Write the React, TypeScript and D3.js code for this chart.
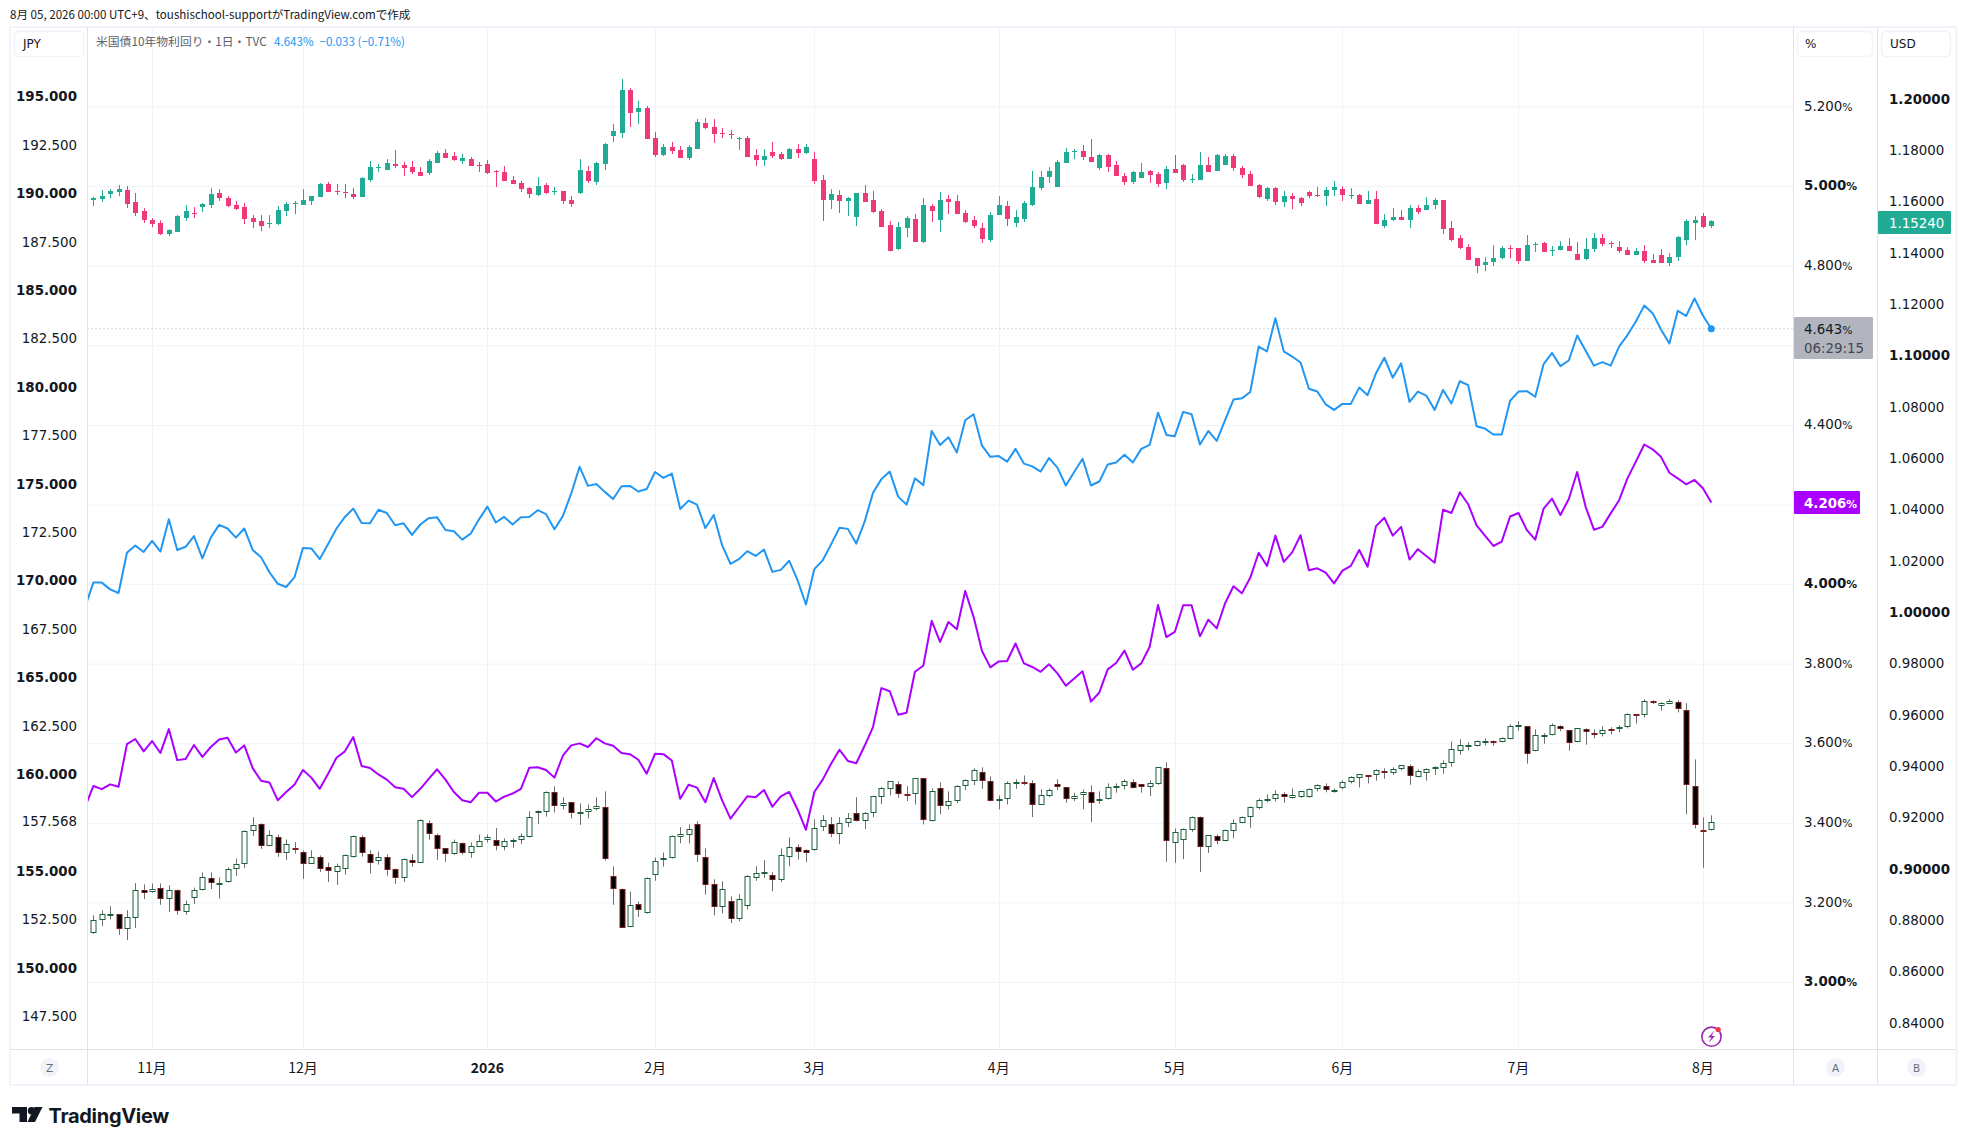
import * as d3 from "d3";

// OHLC rows, one per trading day
const eurusdOhlc: number[][] = [
  [1.1607,1.1620,1.1584,1.1617],[1.1611,1.1646,1.1600,1.1623],[1.1631,1.1650,1.1615,1.1644],[1.1639,1.1666,1.1623,1.1650],
  [1.1646,1.1662,1.1576,1.1592],[1.1600,1.1635,1.1545,1.1557],[1.1565,1.1576,1.1518,1.1529],[1.1529,1.1537,1.1502,1.1514],
  [1.1518,1.1529,1.1471,1.1475],[1.1475,1.1494,1.1467,1.1490],[1.1483,1.1549,1.1483,1.1545],[1.1537,1.1588,1.1526,1.1565],
  [1.1557,1.1580,1.1537,1.1553],[1.1580,1.1596,1.1561,1.1592],[1.1588,1.1654,1.1576,1.1631],[1.1635,1.1650,1.1604,1.1615],
  [1.1615,1.1623,1.1580,1.1584],[1.1588,1.1604,1.1568,1.1572],[1.1580,1.1596,1.1514,1.1533],[1.1537,1.1549,1.1498,1.1522],
  [1.1526,1.1549,1.1486,1.1506],[1.1514,1.1549,1.1498,1.1518],[1.1514,1.1584,1.1510,1.1568],[1.1565,1.1600,1.1545,1.1592],
  [1.1592,1.1604,1.1553,1.1596],[1.1588,1.1650,1.1588,1.1607],[1.1604,1.1623,1.1588,1.1623],[1.1619,1.1674,1.1619,1.1670],
  [1.1670,1.1678,1.1639,1.1639],[1.1643,1.1670,1.1627,1.1639],[1.1639,1.1670,1.1615,1.1635],[1.1631,1.1654,1.1611,1.1619],
  [1.1619,1.1697,1.1619,1.1693],[1.1685,1.1760,1.1678,1.1736],[1.1732,1.1748,1.1717,1.1736],[1.1724,1.1767,1.1724,1.1752],
  [1.1748,1.1802,1.1732,1.1740],[1.1744,1.1756,1.1701,1.1732],[1.1736,1.1760,1.1709,1.1717],[1.1717,1.1736,1.1701,1.1701],
  [1.1713,1.1767,1.1705,1.1760],[1.1752,1.1799,1.1752,1.1791],[1.1791,1.1806,1.1771,1.1771],[1.1779,1.1795,1.1760,1.1763],
  [1.1760,1.1787,1.1748,1.1771],[1.1767,1.1775,1.1740,1.1740],[1.1744,1.1756,1.1717,1.1740],[1.1748,1.1763,1.1709,1.1713],
  [1.1721,1.1724,1.1658,1.1717],[1.1717,1.1740,1.1682,1.1682],[1.1685,1.1701,1.1670,1.1670],[1.1674,1.1682,1.1639,1.1650],
  [1.1654,1.1658,1.1615,1.1631],[1.1627,1.1697,1.1623,1.1662],[1.1666,1.1674,1.1631,1.1635],[1.1639,1.1658,1.1627,1.1643],
  [1.1643,1.1643,1.1592,1.1604],[1.1607,1.1623,1.1580,1.1592],[1.1635,1.1767,1.1631,1.1724],[1.1721,1.1740,1.1674,1.1682],
  [1.1678,1.1756,1.1666,1.1752],[1.1748,1.1830,1.1724,1.1826],[1.1857,1.1904,1.1834,1.1877],[1.1869,1.2079,1.1849,1.2036],
  [1.2036,1.2044,1.1892,1.1947],[1.1951,1.1994,1.1904,1.1966],[1.1966,1.1974,1.1845,1.1845],[1.1849,1.1873,1.1775,1.1783],
  [1.1783,1.1826,1.1779,1.1814],[1.1814,1.1834,1.1787,1.1799],[1.1802,1.1818,1.1771,1.1771],[1.1771,1.1822,1.1763,1.1814],
  [1.1806,1.1923,1.1806,1.1912],[1.1908,1.1927,1.1884,1.1888],[1.1892,1.1923,1.1830,1.1865],[1.1869,1.1888,1.1849,1.1865],
  [1.1865,1.1880,1.1845,1.1861],[1.1845,1.1853,1.1802,1.1849],[1.1849,1.1857,1.1775,1.1775],[1.1783,1.1806,1.1740,1.1763],
  [1.1763,1.1806,1.1740,1.1779],[1.1795,1.1834,1.1771,1.1779],[1.1787,1.1795,1.1763,1.1767],[1.1767,1.1810,1.1767,1.1806],
  [1.1806,1.1826,1.1771,1.1791],[1.1791,1.1826,1.1787,1.1814],[1.1767,1.1795,1.1670,1.1682],[1.1685,1.1705,1.1526,1.1607],
  [1.1607,1.1650,1.1572,1.1631],[1.1627,1.1646,1.1557,1.1604],[1.1604,1.1619,1.1545,1.1615],[1.1541,1.1635,1.1506,1.1635],
  [1.1635,1.1666,1.1600,1.1600],[1.1607,1.1643,1.1557,1.1561],[1.1565,1.1572,1.1502,1.1502],[1.1510,1.1526,1.1408,1.1408],
  [1.1416,1.1522,1.1412,1.1502],[1.1498,1.1545,1.1463,1.1537],[1.1533,1.1553,1.1444,1.1444],[1.1444,1.1615,1.1440,1.1588],
  [1.1584,1.1592,1.1522,1.1565],[1.1529,1.1639,1.1483,1.1607],[1.1611,1.1627,1.1553,1.1600],[1.1604,1.1627,1.1553,1.1553],
  [1.1557,1.1568,1.1518,1.1522],[1.1529,1.1545,1.1498,1.1506],[1.1498,1.1518,1.1440,1.1455],[1.1451,1.1561,1.1444,1.1549],
  [1.1549,1.1623,1.1549,1.1588],[1.1584,1.1604,1.1506,1.1533],[1.1518,1.1568,1.1502,1.1541],[1.1533,1.1604,1.1522,1.1596],
  [1.1588,1.1721,1.1584,1.1658],[1.1654,1.1721,1.1646,1.1697],[1.1697,1.1736,1.1674,1.1721],[1.1658,1.1763,1.1658,1.1756],
  [1.1752,1.1810,1.1752,1.1795],[1.1795,1.1806,1.1767,1.1799],[1.1799,1.1822,1.1763,1.1775],[1.1775,1.1845,1.1756,1.1756],
  [1.1732,1.1787,1.1724,1.1783],[1.1783,1.1787,1.1717,1.1736],[1.1744,1.1760,1.1701,1.1701],[1.1701,1.1713,1.1666,1.1678],
  [1.1678,1.1721,1.1670,1.1717],[1.1693,1.1752,1.1693,1.1717],[1.1721,1.1724,1.1674,1.1705],[1.1709,1.1717,1.1658,1.1670],
  [1.1674,1.1740,1.1650,1.1728],[1.1728,1.1783,1.1713,1.1713],[1.1744,1.1748,1.1678,1.1685],[1.1685,1.1709,1.1674,1.1689],
  [1.1685,1.1795,1.1685,1.1744],[1.1744,1.1775,1.1717,1.1717],[1.1721,1.1787,1.1721,1.1783],[1.1744,1.1787,1.1744,1.1779],
  [1.1779,1.1787,1.1721,1.1732],[1.1732,1.1740,1.1693,1.1705],[1.1709,1.1721,1.1662,1.1662],[1.1666,1.1670,1.1615,1.1619],
  [1.1611,1.1658,1.1604,1.1654],[1.1654,1.1658,1.1588,1.1600],[1.1600,1.1643,1.1580,1.1623],[1.1623,1.1635,1.1572,1.1611],
  [1.1615,1.1619,1.1584,1.1596],[1.1639,1.1643,1.1615,1.1623],[1.1627,1.1658,1.1619,1.1623],[1.1623,1.1658,1.1584,1.1646],
  [1.1646,1.1682,1.1623,1.1658],[1.1650,1.1662,1.1604,1.1627],[1.1623,1.1654,1.1611,1.1627],[1.1627,1.1631,1.1592,1.1592],
  [1.1592,1.1643,1.1592,1.1607],[1.1611,1.1643,1.1514,1.1514],[1.1506,1.1553,1.1498,1.1529],[1.1529,1.1576,1.1526,1.1541],
  [1.1541,1.1568,1.1529,1.1529],[1.1529,1.1588,1.1498,1.1576],[1.1576,1.1588,1.1553,1.1561],[1.1568,1.1619,1.1568,1.1588],
  [1.1588,1.1615,1.1572,1.1607],[1.1607,1.1607,1.1475,1.1494],[1.1498,1.1526,1.1447,1.1451],[1.1459,1.1471,1.1416,1.1420],
  [1.1424,1.1436,1.1373,1.1373],[1.1381,1.1381,1.1323,1.1350],[1.1354,1.1385,1.1330,1.1366],[1.1366,1.1432,1.1350,1.1381],
  [1.1381,1.1428,1.1377,1.1420],[1.1420,1.1432,1.1381,1.1416],[1.1420,1.1420,1.1358,1.1370],[1.1370,1.1471,1.1370,1.1432],
  [1.1432,1.1444,1.1405,1.1436],[1.1440,1.1444,1.1405,1.1405],[1.1408,1.1428,1.1389,1.1412],[1.1412,1.1447,1.1412,1.1428],
  [1.1428,1.1459,1.1408,1.1408],[1.1397,1.1444,1.1373,1.1373],[1.1377,1.1459,1.1373,1.1416],[1.1416,1.1479,1.1405,1.1459],
  [1.1459,1.1475,1.1428,1.1436],[1.1440,1.1447,1.1420,1.1436],[1.1424,1.1447,1.1401,1.1408],[1.1412,1.1424,1.1393,1.1393],
  [1.1393,1.1420,1.1393,1.1408],[1.1408,1.1432,1.1362,1.1370],[1.1373,1.1397,1.1362,1.1362],[1.1393,1.1416,1.1362,1.1362],
  [1.1362,1.1401,1.1350,1.1385],[1.1385,1.1467,1.1370,1.1463],[1.1451,1.1533,1.1432,1.1526],[1.1518,1.1545,1.1451,1.1529],
  [1.1545,1.1557,1.1498,1.1502],[1.1506,1.1529,1.1498,1.1524],
];

const usdjpyOhlc: number[][] = [
  [151.86,152.77,151.81,152.55],[152.55,153.03,152.20,152.81],[152.77,153.24,152.55,152.81],[152.81,152.81,151.75,152.08],
  [152.08,153.03,151.49,152.70],[152.65,154.43,152.12,154.10],[154.10,154.37,153.60,153.94],[153.99,154.41,153.93,154.15],
  [154.20,154.41,153.31,153.63],[153.63,154.32,152.94,154.05],[154.05,154.10,152.79,153.01],[152.96,153.53,152.79,153.37],
  [153.68,154.20,153.34,154.10],[154.10,154.98,154.05,154.77],[154.72,154.98,154.12,154.46],[154.44,154.72,153.63,154.46],
  [154.51,155.24,154.46,155.18],[155.18,155.70,154.79,155.44],[155.44,157.15,155.22,157.10],[157.10,157.84,156.87,157.41],
  [157.46,157.51,156.20,156.37],[156.37,157.15,156.37,156.89],[156.79,156.94,155.79,156.01],[155.96,156.68,155.63,156.43],
  [156.22,156.55,155.96,156.12],[156.06,156.12,154.65,155.44],[155.44,156.12,155.42,155.80],[155.80,155.86,155.01,155.18],
  [155.24,155.49,154.49,155.08],[155.03,155.44,154.34,155.29],[155.18,155.91,154.87,155.86],[155.80,156.89,155.75,156.84],
  [156.79,156.89,155.80,155.96],[155.91,156.12,154.93,155.49],[155.55,156.06,155.39,155.80],[155.80,155.91,154.81,155.13],
  [155.18,155.18,154.39,154.67],[154.67,155.70,154.49,155.65],[155.60,155.91,155.27,155.49],[155.49,157.72,155.48,157.67],
  [157.51,157.67,156.67,156.99],[156.94,156.99,155.63,156.17],[156.22,156.22,155.53,155.91],[155.91,156.68,155.89,156.53],
  [156.48,156.53,155.91,156.01],[156.01,156.53,155.74,156.37],[156.32,156.94,156.32,156.63],[156.68,156.94,156.53,156.79],
  [156.68,157.27,156.12,156.37],[156.32,156.74,156.12,156.63],[156.58,156.74,156.25,156.68],[156.68,156.99,156.46,156.84],
  [156.79,158.13,156.79,157.87],[158.03,158.18,157.49,158.13],[158.08,159.17,157.87,159.12],[159.12,159.43,158.08,158.39],
  [158.39,158.86,158.24,158.55],[158.60,158.60,157.77,158.03],[158.06,158.55,157.44,158.08],[158.08,158.49,157.77,158.24],
  [158.24,158.86,158.18,158.39],[158.34,159.17,155.60,155.70],[154.82,155.29,153.31,154.15],[154.15,154.15,152.13,152.13],
  [152.18,153.99,152.18,153.32],[153.37,153.48,152.68,153.06],[152.91,154.72,152.86,154.72],[154.87,155.75,154.55,155.55],
  [155.60,156.01,155.29,155.75],[155.75,156.89,155.70,156.84],[156.79,157.32,156.49,156.99],[156.94,157.46,156.49,157.20],
  [157.46,157.63,155.53,155.86],[155.80,156.22,153.84,154.31],[154.37,154.63,152.77,153.18],[153.18,154.53,152.87,154.12],
  [153.49,153.75,152.36,152.56],[152.56,153.86,152.46,153.60],[153.24,154.84,153.08,154.79],[154.70,155.30,154.55,154.93],
  [154.91,155.62,154.70,155.03],[154.87,154.99,154.01,154.60],[154.60,156.22,154.48,155.86],[155.80,156.79,155.30,156.32],
  [156.27,156.43,155.65,156.06],[156.12,156.17,155.51,156.01],[156.12,157.72,156.10,157.30],[157.34,157.94,157.12,157.67],
  [157.46,157.84,156.80,156.99],[156.99,157.84,156.44,157.51],[157.51,158.05,157.32,157.77],[158.03,158.87,157.62,157.62],
  [157.62,158.10,157.22,158.03],[158.03,158.91,157.84,158.91],[158.86,159.39,158.51,159.32],[159.27,159.68,158.96,159.68],
  [159.53,159.70,158.84,159.01],[159.01,159.44,158.67,158.96],[159.01,159.84,158.49,159.84],[159.84,159.84,157.46,157.67],
  [157.62,159.32,157.62,159.17],[159.32,159.63,157.98,158.39],[158.39,159.17,158.24,158.65],[158.65,159.48,158.56,159.43],
  [159.43,159.79,159.24,159.74],[159.68,160.36,159.48,160.25],[160.15,160.41,159.30,159.68],[159.68,159.94,158.65,158.65],
  [158.73,158.96,158.24,158.75],[158.75,159.68,158.49,159.58],[159.61,159.79,159.30,159.63],[159.63,159.99,159.48,159.58],
  [159.58,159.74,157.84,158.49],[158.49,159.27,158.49,158.96],[158.91,159.32,158.87,159.22],[159.53,159.79,159.24,159.37],
  [159.37,159.37,158.58,158.75],[158.75,159.10,158.67,158.91],[158.96,159.27,158.25,159.12],[159.12,159.48,157.58,158.55],
  [158.73,159.17,158.53,158.75],[158.75,159.58,158.75,159.37],[159.32,159.58,159.10,159.43],[159.43,159.79,159.27,159.68],
  [159.63,159.79,159.32,159.32],[159.53,159.53,159.10,159.37],[159.37,159.74,158.93,159.58],[159.53,160.41,159.51,160.41],
  [160.36,160.67,155.53,156.58],[156.48,157.25,155.48,157.05],[156.68,157.25,155.67,157.20],[157.15,157.87,157.08,157.82],
  [157.82,157.87,155.01,156.32],[156.32,156.89,155.99,156.89],[156.84,156.94,156.43,156.63],[156.58,157.20,156.58,157.15],
  [157.10,157.72,156.74,157.56],[157.56,157.87,157.53,157.82],[157.82,158.39,157.29,158.34],[158.29,158.80,158.24,158.70],
  [158.65,159.01,158.60,158.80],[158.80,159.22,158.65,159.01],[159.01,159.12,158.58,158.89],[158.84,159.32,158.80,158.96],
  [158.86,159.17,158.84,159.17],[158.86,159.32,158.84,159.27],[159.27,159.53,159.17,159.48],[159.43,159.58,159.12,159.22],
  [159.17,159.32,159.10,159.22],[159.32,159.74,159.27,159.63],[159.63,159.94,159.58,159.89],[159.84,160.05,159.37,160.05],
  [160.01,160.01,159.58,159.98],[159.99,160.30,159.72,160.25],[160.20,160.36,159.82,160.13],[160.10,160.41,160.01,160.30],
  [160.30,160.51,160.25,160.51],[160.46,160.56,159.51,159.94],[159.89,160.30,159.89,160.20],[160.10,160.36,159.72,160.30],
  [160.30,160.46,160.03,160.41],[160.36,160.77,160.08,160.62],[160.62,161.75,160.44,161.34],[161.24,161.86,161.06,161.55],
  [161.53,161.70,161.29,161.56],[161.49,161.80,161.49,161.75],[161.72,161.91,161.53,161.75],[161.75,161.80,161.53,161.72],
  [161.70,161.96,161.70,161.91],[161.86,162.63,161.86,162.53],[162.56,162.79,162.30,162.58],[162.53,162.53,160.60,161.08],
  [161.24,162.37,161.24,162.06],[162.06,162.17,161.63,162.10],[162.06,162.68,162.06,162.58],[162.53,162.58,162.27,162.37],
  [162.32,162.32,161.27,161.65],[161.70,162.42,161.70,162.42],[162.37,162.42,161.58,162.22],[162.18,162.37,161.91,162.15],
  [162.11,162.53,162.01,162.32],[162.39,162.48,162.11,162.36],[162.46,162.58,162.22,162.48],[162.48,163.20,162.42,163.15],
  [163.17,163.17,162.67,163.13],[163.10,163.93,162.99,163.82],[163.84,163.87,163.67,163.80],[163.56,163.77,163.34,163.72],
  [163.67,163.93,163.67,163.82],[163.77,163.87,163.25,163.41],[163.36,163.72,157.98,159.48],[159.43,160.82,157.25,157.41],
  [157.15,157.82,155.22,157.13],[157.15,157.93,157.15,157.568],
];

// yield closes, first value is the day before the first candle (clipped by the pane)
const us10y = [
  3.944,4.005,4.005,3.988,3.979,4.080,4.098,4.082,4.110,4.083,4.164,4.087,4.095,4.122,4.066,4.118,4.150,4.141,4.118,4.141,
  4.087,4.069,4.031,4.002,3.994,4.019,4.092,4.091,4.064,4.102,4.141,4.170,4.191,4.155,4.154,4.188,4.180,4.149,4.154,4.125,
  4.151,4.167,4.169,4.137,4.134,4.113,4.128,4.164,4.196,4.156,4.170,4.151,4.169,4.170,4.187,4.177,4.139,4.172,4.229,4.296,
  4.248,4.253,4.233,4.215,4.247,4.248,4.234,4.240,4.283,4.268,4.279,4.190,4.211,4.201,4.142,4.175,4.099,4.052,4.064,4.084,
  4.072,4.088,4.032,4.037,4.060,4.011,3.950,4.039,4.061,4.101,4.143,4.140,4.103,4.158,4.231,4.265,4.284,4.221,4.201,4.267,
  4.250,4.386,4.351,4.370,4.332,4.413,4.428,4.349,4.321,4.323,4.309,4.341,4.304,4.297,4.284,4.318,4.294,4.249,4.283,4.316,
  4.249,4.259,4.302,4.307,4.326,4.307,4.341,4.351,4.432,4.376,4.373,4.434,4.428,4.352,4.386,4.361,4.413,4.465,4.468,4.484,
  4.598,4.586,4.669,4.586,4.573,4.558,4.492,4.485,4.453,4.439,4.454,4.454,4.495,4.476,4.531,4.570,4.520,4.556,4.459,4.485,
  4.475,4.439,4.489,4.455,4.511,4.501,4.398,4.392,4.377,4.377,4.462,4.485,4.486,4.472,4.554,4.582,4.549,4.563,4.626,4.588,
  4.550,4.559,4.550,4.598,4.627,4.661,4.701,4.682,4.641,4.606,4.688,4.675,4.719,4.676,4.643,
];

const otherYield = [
  3.441,3.494,3.486,3.498,3.492,3.599,3.612,3.581,3.607,3.577,3.637,3.559,3.562,3.597,3.567,3.592,3.611,3.615,3.578,3.596,
  3.539,3.507,3.503,3.458,3.479,3.498,3.534,3.515,3.487,3.525,3.565,3.581,3.617,3.544,3.539,3.523,3.510,3.491,3.487,3.466,
  3.487,3.512,3.536,3.510,3.479,3.458,3.453,3.477,3.477,3.455,3.467,3.475,3.487,3.540,3.541,3.534,3.515,3.570,3.596,3.601,
  3.592,3.614,3.601,3.595,3.577,3.574,3.560,3.525,3.575,3.574,3.558,3.462,3.497,3.490,3.453,3.514,3.458,3.412,3.440,3.468,
  3.466,3.484,3.442,3.468,3.479,3.435,3.384,3.479,3.510,3.550,3.585,3.557,3.551,3.595,3.642,3.740,3.732,3.673,3.678,3.781,
  3.796,3.909,3.856,3.906,3.888,3.984,3.919,3.833,3.792,3.807,3.808,3.852,3.802,3.793,3.781,3.800,3.777,3.746,3.764,3.782,
  3.706,3.729,3.787,3.803,3.834,3.786,3.802,3.844,3.949,3.868,3.881,3.948,3.948,3.870,3.912,3.890,3.953,3.996,3.978,4.017,
  4.080,4.047,4.123,4.057,4.081,4.124,4.036,4.041,4.030,4.003,4.035,4.047,4.087,4.045,4.147,4.168,4.123,4.145,4.063,4.089,
  4.072,4.055,4.188,4.180,4.232,4.202,4.149,4.123,4.097,4.108,4.171,4.180,4.137,4.113,4.191,4.216,4.175,4.215,4.283,4.196,
  4.138,4.145,4.179,4.212,4.267,4.309,4.352,4.340,4.321,4.281,4.267,4.252,4.263,4.242,4.206,
];

const jpyTicks = [195,192.5,190,187.5,185,182.5,180,177.5,175,172.5,170,167.5,165,162.5,160,157.568,155,152.5,150,147.5];
const pctGrid = [5.2,5.0,4.8,4.6,4.4,4.2,4.0,3.8,3.6,3.4,3.2,3.0];
const pctLabels = [5.2,5.0,4.8,4.4,4.0,3.8,3.6,3.4,3.2,3.0];
const usdTicks = [1.2,1.18,1.16,1.14,1.12,1.1,1.08,1.06,1.04,1.02,1.0,0.98,0.96,0.94,0.92,0.9,0.88,0.86,0.84];
const monthIdx = [7,25,47,67,86,108,129,149,170,192];
const monthLabels = ["11月","12月","2026","2月","3月","4月","5月","6月","7月","8月"];

const W = 1965;
const H = 1145;
const paneL = 87.5;
const paneR = 1793.5;
const usdL = 1877.5;
const frameR = 1955.5;
const paneT = 27;
const paneB = 1049.5;
const frameB = 1085;

const x = d3.scaleLinear().domain([0, 193]).range([93.4, 1711.3]);
const yUsd = d3.scaleLinear().domain([1.2, 0.84]).range([99.3, 1023.3]);
const yJpy = d3.scaleLinear().domain([195, 147.5]).range([97.6, 1017.3]);
const yPct = d3.scaleLinear().domain([5.2, 3.0]).range([107, 982.6]);

const pctLine = d3
  .line<number>()
  .x((_, i) => x(i - 1))
  .y((d) => yPct(d));

const latin = "'DejaVu Sans', sans-serif";
const cjk = "'Noto Sans CJK JP', 'Noto Sans', sans-serif";
const inkColor = "#131722";
const gridColor = "#f0f3fa";
const axisColor = "#e0e3eb";
const tickSize = 13.4;

function Candles({ rows, y, up, down, upBorder, downBorder, wick }: {
  rows: number[][];
  y: d3.ScaleLinear<number, number>;
  up: string;
  down: string;
  upBorder?: string;
  downBorder?: string;
  wick?: string;
}) {
  return (
    <g>
      {rows.map(([o, h, l, c], i) => {
        const rising = c >= o;
        const cx = Math.round(x(i));
        const top = Math.round(y(Math.max(o, c)));
        const bottom = Math.round(y(Math.min(o, c)));
        const fill = rising ? up : down;
        const border = rising ? upBorder : downBorder;
        const bh = Math.max(1, bottom - top);
        return (
          <g key={i}>
            <line x1={cx + 0.5} x2={cx + 0.5} y1={y(h)} y2={y(l)} stroke={wick ?? fill} strokeWidth={1} />
            {border ? (
              <rect x={cx - 2} y={top + 0.5} width={5} height={Math.max(1, bh - 1)} fill={fill} stroke={border} strokeWidth={1} />
            ) : (
              <rect x={cx - 2} y={top} width={5} height={bh} fill={fill} />
            )}
          </g>
        );
      })}
    </g>
  );
}

function Pill({ left, width, label, textX }: { left: number; width: number; label: string; textX: number }) {
  return (
    <g>
      <rect x={left} y={31.5} width={width} height={25} rx={4} fill="#fff" stroke={gridColor} strokeWidth={1.5} />
      <text x={textX} y={48} fontSize={12} fontFamily={latin} fill={inkColor}>{label}</text>
    </g>
  );
}

function Badge({ cx, label }: { cx: number; label: string }) {
  return (
    <g>
      <circle cx={cx} cy={1067.5} r={9.5} fill="#f0f3fa" />
      <text x={cx} y={1071.5} fontSize={10.5} textAnchor="middle" fontFamily={latin} fill="#6a6d78">{label}</text>
    </g>
  );
}

export default function App() {
  const last = us10y.length - 1;
  return (
    <svg width={W} height={H} style={{ position: "fixed", left: 0, top: 0, background: "#fff" }}>
      <defs>
        <clipPath id="pane">
          <rect x={paneL} y={paneT} width={paneR - paneL} height={paneB - paneT} />
        </clipPath>
      </defs>

      <text x={10} y={19} fontSize={11.57} fontFamily={cjk} fill={inkColor}>
        8月 05, 2026 00:00 UTC+9、toushischool-supportがTradingView.comで作成
      </text>

      {/* grid */}
      {pctGrid.map((v) => (
        <line key={v} x1={paneL} x2={paneR} y1={yPct(v)} y2={yPct(v)} stroke={gridColor} strokeWidth={1} />
      ))}
      {monthIdx.map((m) => (
        <line key={m} x1={Math.round(x(m)) + 0.5} x2={Math.round(x(m)) + 0.5} y1={paneT} y2={paneB} stroke={gridColor} strokeWidth={1} />
      ))}

      {/* last value line */}
      <line x1={paneL} x2={paneR} y1={yPct(us10y[last])} y2={yPct(us10y[last])} stroke="#b2b5be" strokeWidth={1} strokeDasharray="1 3" />

      <g clipPath="url(#pane)">
        <Candles rows={usdjpyOhlc} y={yJpy} up="#ffffff" down="#000000" upBorder="#1b5e3b" downBorder="#7a1f1f" wick="#6f6f6f" />
        <Candles rows={eurusdOhlc} y={yUsd} up="#22ab94" down="#ee3a7a" />
        <path d={pctLine(us10y) ?? ""} fill="none" stroke="#2196f3" strokeWidth={2} strokeLinejoin="round" />
        <path d={pctLine(otherYield) ?? ""} fill="none" stroke="#aa00ff" strokeWidth={2} strokeLinejoin="round" />
        <circle cx={x(193)} cy={yPct(us10y[last])} r={3.5} fill="#2196f3" />
      </g>

      {/* frame and axis rules */}
      <rect x={10} y={paneT} width={frameR - 9} height={frameB - paneT} fill="none" stroke={gridColor} strokeWidth={2} />
      <line x1={paneL} x2={paneL} y1={paneT} y2={frameB} stroke={axisColor} />
      <line x1={paneR} x2={paneR} y1={paneT} y2={frameB} stroke={axisColor} />
      <line x1={usdL} x2={usdL} y1={paneT} y2={frameB} stroke={axisColor} />
      <line x1={10} x2={frameR} y1={paneB} y2={paneB} stroke={axisColor} />

      {/* legend */}
      <text x={96} y={46} fontSize={11.8} fontFamily={cjk} fill="#5d606b">米国債10年物利回り・1日・TVC</text>
      <text x={274} y={46} fontSize={11.6} fontFamily={cjk} fill="#2196f3">4.643%</text>
      <text x={319.5} y={46} fontSize={11.6} fontFamily={cjk} fill="#2196f3">−0.033 (−0.71%)</text>

      <Pill left={14.5} width={69} label="JPY" textX={23} />
      <Pill left={1797.5} width={75} label="%" textX={1805} />
      <Pill left={1881.5} width={69} label="USD" textX={1890} />

      {/* left axis */}
      {jpyTicks.map((v) => (
        <text key={v} x={77} y={yJpy(v) + 3.8} textAnchor="end" fontSize={tickSize} fontFamily={latin}
          fontWeight={v % 5 === 0 ? 700 : 400} fill={inkColor}>
          {v.toFixed(3)}
        </text>
      ))}

      {/* yield axis */}
      {pctLabels.map((v) => (
        <text key={v} x={1804} y={yPct(v) + 3.5} fontSize={tickSize} fontFamily={latin}
          fontWeight={Number.isInteger(v) ? 700 : 400} fill={inkColor}>
          {v.toFixed(3)}<tspan fontSize={10.8}>%</tspan>
        </text>
      ))}
      <rect x={1794} y={317} width={79} height={42} rx={1} fill="#b2b5be" />
      <text x={1804} y={334} fontSize={tickSize} fontFamily={latin} fill={inkColor}>4.643<tspan fontSize={10.8}>%</tspan></text>
      <text x={1804} y={353} fontSize={tickSize} fontFamily={latin} fill="#434651">06:29:15</text>
      <rect x={1794} y={491} width={66} height={23} rx={1} fill="#aa00ff" />
      <text x={1804} y={507.5} fontSize={tickSize} fontWeight={700} fontFamily={latin} fill="#fff">4.206<tspan fontSize={10.8}>%</tspan></text>

      {/* usd axis */}
      {usdTicks.map((v) => (
        <text key={v} x={1889} y={yUsd(v) + 4.3} fontSize={tickSize} fontFamily={latin}
          fontWeight={Math.abs(v * 10 - Math.round(v * 10)) < 1e-6 ? 700 : 400} fill={inkColor}>
          {v.toFixed(5)}
        </text>
      ))}
      <rect x={1878} y={211} width={73} height={23} rx={1} fill="#22ab94" />
      <text x={1889} y={227.5} fontSize={tickSize} fontFamily={latin} fontWeight={500} fill="#fff">1.15240</text>

      {/* time axis */}
      {monthIdx.map((m, i) => (
        <text key={m} x={x(m)} y={1073} textAnchor="middle" fontSize={14} fontFamily={cjk}
          fontWeight={monthLabels[i] === "2026" ? 700 : 400} fill={inkColor}>
          {monthLabels[i]}
        </text>
      ))}
      <Badge cx={49.5} label="Z" />
      <Badge cx={1835.5} label="A" />
      <Badge cx={1916.5} label="B" />

      {/* news flash marker */}
      <circle cx={1711.5} cy={1036.7} r={9.6} fill="#fff" stroke="#9c27b0" strokeWidth={1.6} />
      <path d="M1714.5 1030.5 L1708 1037.5 L1711.5 1037.5 L1708.5 1043 L1715 1036 L1711.5 1036 Z" fill="#9c27b0" />
      <circle cx={1718.2} cy={1029.5} r={2.6} fill="#f23645" />

      {/* logo */}
      <path d="M12 1107 H27 V1122 H19.5 V1113.5 H12 Z" fill="#131722" />
      <circle cx={31.5} cy={1110.7} r={3.7} fill="#131722" />
      <path d="M34.5 1107 H42.5 L35 1122 H27.5 Z" fill="#131722" />
      <text x={48.5} y={1122.5} fontSize={20} fontWeight={700} fontFamily="Inter, sans-serif" fill="#131722" letterSpacing={-0.3}>TradingView</text>
    </svg>
  );
}
